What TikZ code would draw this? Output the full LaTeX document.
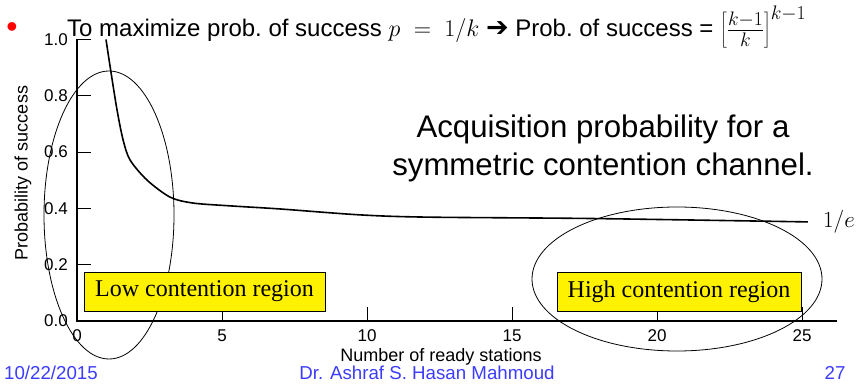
\documentclass[tikz,border=0pt]{standalone}
\usepackage{fix-cm}
\usepackage{fontspec}
\setmainfont{Liberation Sans}
\newfontfamily\boxfont{Liberation Serif}
\newfontfamily\arrowfont{DejaVu Sans}
\definecolor{footblue}{RGB}{60,60,255}
\begin{document}
\begin{tikzpicture}[x=1pt,y=1pt,
        ticklabel/.style={font=\fontsize{17}{20}\selectfont,inner sep=0pt},
        axistitle/.style={font=\fontsize{18}{21}\selectfont,inner sep=0pt},
        regionbox/.style={draw=black,fill=yellow,line width=0.6pt,inner sep=0pt,minimum height=39pt,font=\boxfont\fontsize{24}{28}\selectfont},
        region/.style={draw=black,line width=0.8pt},
        footer/.style={text=footblue,font=\fontsize{18.7}{22}\selectfont,inner sep=0pt}]
        \useasboundingbox (0,0) rectangle (859,385);
        \node[text=red,font=\fontsize{32}{32}\selectfont,inner sep=0pt] (dot) at (12,355) {\textbullet};
        \node[anchor=base west,inner sep=0pt,font=\fontsize{24}{28}\selectfont] (rule) at (67,348)
              {To maximize prob.\ of success $p\;=\;1/k$ {\arrowfont\fontsize{27}{28}\selectfont ➔} Prob.\ of success =
               {\fontsize{28}{28}\selectfont$\left[\frac{k-1}{k}\right]^{k-1}$}};
        \node[anchor=north,align=center,inner sep=0pt,font=\fontsize{31.2}{38}\selectfont] (title) at (603,270)
              {Acquisition probability for a\\symmetric contention channel.};
        \begin{scope}[shift={(77,64)},x=29pt,y=281.5pt]
        \draw[line width=1.1pt] (0,1) -- (0,0) -- (26.2,0);
        \foreach \p/\lab [count=\i] in {0/0.0,0.2/0.2,0.4/0.4,0.6/0.6,0.8/0.8,1/1.0} {
            \draw[line width=0.8pt] (0,\p) -- ++(14pt,0);
            \node[ticklabel,anchor=east,xshift=-9pt] (ylab\i) at (0,\p) {\lab};
        }
        \foreach \k in {0,5,10,15,20,25} {
            \draw[line width=0.8pt] (\k,0) -- ++(0,14pt);
            \node[ticklabel,anchor=base,yshift=-21pt] (xlab\k) at (\k,0) {\k};
        }
        \draw[line width=1.6pt] plot[smooth] coordinates {(1,1) (1.17,0.885) (1.38,0.75) (1.59,0.643) (1.83,0.572) (2.41,0.501)
              (3.21,0.44) (4,0.419) (5.28,0.409) (7,0.398) (9.76,0.377) (12.07,0.369) (17.8,0.364) (25.2,0.352)};
        \end{scope}
        \node[anchor=base west,inner sep=0pt,font=\fontsize{23}{26}\selectfont] (inve) at (823,157) {$1/e$};
        \node[axistitle,rotate=90] (ytitle) at (23,212) {Probability of success};
        \node[axistitle,anchor=base] (xtitle) at (441,23) {Number of ready stations};
        \draw[region] (109,170) ellipse [x radius=65pt,y radius=144pt];
        \draw[region] (677,106) ellipse [x radius=145pt,y radius=72pt];
        \node[regionbox,minimum width=241pt] (low) at (204.5,93.5) {Low contention region};
        \node[regionbox,minimum width=244pt] (high) at (679,93.5) {High contention region};
        \node[footer,anchor=base west] (date) at (4,5) {10/22/2015};
        \node[footer,anchor=base] (author) at (427,5) {Dr. Ashraf S. Hasan Mahmoud};
        \node[footer,anchor=base] (page) at (835,5) {27};
\end{tikzpicture}
\end{document}
